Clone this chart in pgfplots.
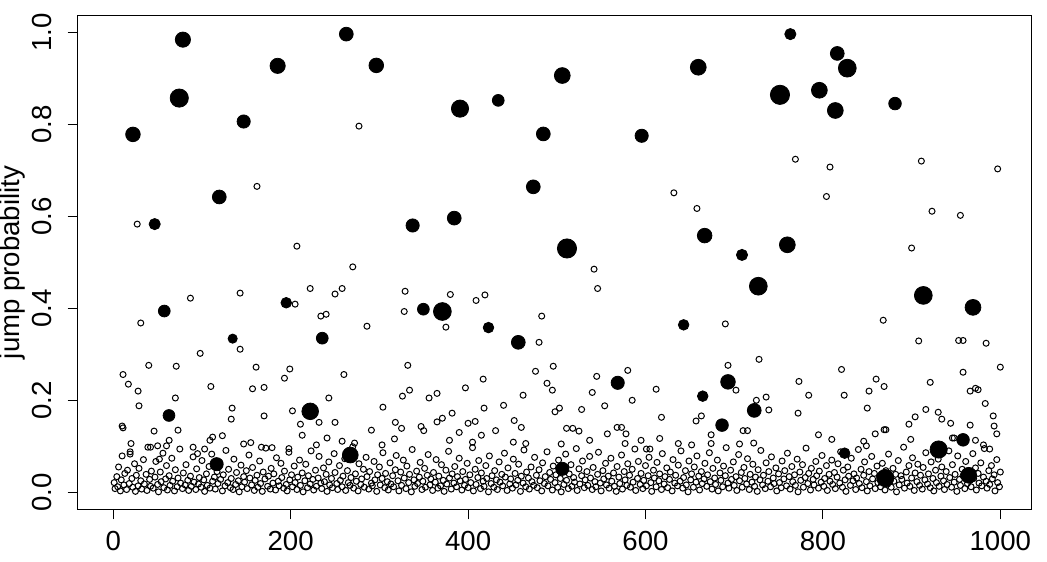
\documentclass[border=0pt]{standalone}
\usepackage{fontspec}
\setmainfont{Liberation Sans}
\usepackage{pgfplots}
\pgfplotsset{compat=1.18}

% open circles: small jump probabilities
\pgfplotstableread{
x y
27 0.583
162 0.665
277 0.796
207 0.535
632 0.651
658 0.617
769 0.724
808 0.707
911 0.720
997 0.703
804 0.643
923 0.611
955 0.602
900 0.531
270 0.490
143 0.433
222 0.443
250 0.431
258 0.443
87 0.422
205 0.409
31 0.368
234 0.383
240 0.387
286 0.361
98 0.302
143 0.311
40 0.276
71 0.274
161 0.272
199 0.268
193 0.248
11 0.256
17 0.235
28 0.220
29 0.188
70 0.205
110 0.230
157 0.225
170 0.228
260 0.256
243 0.205
304 0.185
134 0.183
133 0.159
170 0.166
202 0.177
211 0.148
232 0.152
250 0.152
291 0.135
318 0.152
10 0.144
11 0.140
46 0.133
73 0.135
213 0.124
20 0.106
63 0.113
112 0.120
123 0.123
241 0.118
258 0.111
272 0.107
303 0.103
317 0.116
229 0.103
42 0.098
50 0.101
60 0.101
52 0.072
19 0.083
90 0.098
103 0.094
95 0.084
109 0.113
147 0.105
155 0.108
167 0.098
179 0.097
198 0.095
542 0.485
546 0.443
329 0.437
328 0.393
380 0.430
409 0.417
419 0.429
375 0.359
483 0.383
480 0.326
332 0.276
496 0.274
476 0.263
580 0.265
545 0.252
417 0.246
326 0.209
334 0.222
356 0.205
365 0.215
397 0.227
462 0.211
489 0.237
495 0.222
540 0.217
612 0.224
585 0.200
440 0.189
418 0.183
382 0.172
371 0.161
365 0.153
498 0.175
503 0.183
528 0.180
554 0.188
618 0.163
325 0.139
347 0.143
350 0.134
400 0.150
408 0.154
452 0.156
460 0.141
511 0.139
518 0.139
525 0.133
568 0.141
573 0.141
578 0.127
390 0.130
431 0.134
415 0.124
557 0.127
657 0.155
663 0.166
674 0.125
379 0.113
405 0.109
451 0.109
465 0.106
505 0.105
537 0.113
577 0.106
595 0.113
601 0.094
605 0.094
616 0.117
637 0.106
652 0.103
674 0.106
690 0.366
868 0.374
908 0.329
953 0.330
958 0.330
984 0.324
728 0.289
693 0.276
821 0.267
1000 0.272
773 0.241
860 0.246
921 0.239
958 0.261
702 0.222
869 0.230
852 0.220
784 0.211
824 0.211
736 0.207
725 0.200
966 0.220
972 0.226
975 0.223
739 0.179
772 0.172
850 0.183
916 0.180
930 0.174
983 0.193
992 0.166
904 0.164
934 0.159
944 0.150
897 0.148
993 0.144
966 0.146
996 0.127
710 0.134
715 0.134
869 0.136
871 0.136
795 0.125
859 0.127
899 0.115
946 0.118
948 0.118
972 0.113
810 0.115
722 0.107
706 0.105
981 0.103
846 0.111
849 0.101
988 0.094
}\upper

\pgfplotstableread{
x y
1 0.021
2 0.008
4 0.034
5 0.012
6 0.055
8 0.003
9 0.027
10 0.079
12 0.016
13 0.041
15 0.006
16 0.048
18 0.019
19 0.088
21 0.030
22 0.011
24 0.062
25 0.002
26 0.037
28 0.014
29 0.052
31 0.025
32 0.007
34 0.071
35 0.018
37 0.039
38 0.004
39 0.098
41 0.028
42 0.013
43 0.046
45 0.009
47 0.033
48 0.067
50 0.017
51 0.001
53 0.044
54 0.023
56 0.085
57 0.010
59 0.029
60 0.058
61 0.005
63 0.036
64 0.015
66 0.074
67 0.024
69 0.003
70 0.049
72 0.012
73 0.031
75 0.094
76 0.020
78 0.008
79 0.042
81 0.016
82 0.060
84 0.026
85 0.004
87 0.035
88 0.013
90 0.077
91 0.022
93 0.006
94 0.051
96 0.018
97 0.032
99 0.011
100 0.069
102 0.027
103 0.002
105 0.040
106 0.015
108 0.056
109 0.009
111 0.083
112 0.024
114 0.033
115 0.007
117 0.045
118 0.019
120 0.065
121 0.028
123 0.003
124 0.038
126 0.014
127 0.091
129 0.021
130 0.050
132 0.010
133 0.030
135 0.006
136 0.072
138 0.017
139 0.043
141 0.025
142 0.001
144 0.059
145 0.012
147 0.034
148 0.022
150 0.047
151 0.008
153 0.081
154 0.031
156 0.016
157 0.054
159 0.004
160 0.026
162 0.037
163 0.011
165 0.068
166 0.019
168 0.002
169 0.044
171 0.029
172 0.096
174 0.013
175 0.035
177 0.007
178 0.052
180 0.020
181 0.040
183 0.005
184 0.075
186 0.024
187 0.014
189 0.063
190 0.032
192 0.009
193 0.046
195 0.017
196 0.003
198 0.087
199 0.027
201 0.038
202 0.012
204 0.057
205 0.021
207 0.006
208 0.033
210 0.070
211 0.015
213 0.042
214 0.001
216 0.025
217 0.061
219 0.010
220 0.036
222 0.018
223 0.090
225 0.028
226 0.005
228 0.048
229 0.013
231 0.031
232 0.078
234 0.020
235 0.008
237 0.053
238 0.023
240 0.039
241 0.002
243 0.066
244 0.016
246 0.030
247 0.010
249 0.084
250 0.043
252 0.019
253 0.006
255 0.058
256 0.026
258 0.012
259 0.035
261 0.073
262 0.004
264 0.047
265 0.021
267 0.015
268 0.032
270 0.099
271 0.009
273 0.040
274 0.024
276 0.003
277 0.062
279 0.017
280 0.029
282 0.050
283 0.011
285 0.076
286 0.034
288 0.007
289 0.045
291 0.020
292 0.014
294 0.067
295 0.027
297 0.002
298 0.038
300 0.055
301 0.016
303 0.030
304 0.086
306 0.010
307 0.041
309 0.023
310 0.005
312 0.064
313 0.018
315 0.036
316 0.012
318 0.049
319 0.080
321 0.025
322 0.003
324 0.044
325 0.015
327 0.070
328 0.031
330 0.008
331 0.057
333 0.021
334 0.039
336 0.001
337 0.093
339 0.027
340 0.013
342 0.046
343 0.019
345 0.033
346 0.065
348 0.006
349 0.024
351 0.052
352 0.011
354 0.037
355 0.082
357 0.016
358 0.029
360 0.004
361 0.043
363 0.022
364 0.071
366 0.009
367 0.035
369 0.014
370 0.060
372 0.026
373 0.002
375 0.048
376 0.018
378 0.089
379 0.031
381 0.007
382 0.040
384 0.020
385 0.056
387 0.012
388 0.034
390 0.074
391 0.025
393 0.005
394 0.045
396 0.015
397 0.028
399 0.063
400 0.010
402 0.038
403 0.021
405 0.097
406 0.003
408 0.050
409 0.017
411 0.032
412 0.069
414 0.008
415 0.042
417 0.024
418 0.013
420 0.058
421 0.030
423 0.001
424 0.079
426 0.019
427 0.036
429 0.011
430 0.047
432 0.027
433 0.006
435 0.066
436 0.022
438 0.039
439 0.014
441 0.085
442 0.033
444 0.004
445 0.053
447 0.018
448 0.029
450 0.009
451 0.072
453 0.041
454 0.016
456 0.026
457 0.061
459 0.002
460 0.035
462 0.020
463 0.092
465 0.012
466 0.044
468 0.031
469 0.007
471 0.055
472 0.023
474 0.015
475 0.076
477 0.037
478 0.010
480 0.049
481 0.025
483 0.003
484 0.064
486 0.019
487 0.034
489 0.088
490 0.014
492 0.043
493 0.028
495 0.005
496 0.057
498 0.021
499 0.038
501 0.011
502 0.070
504 0.030
505 0.001
507 0.046
508 0.017
510 0.083
511 0.026
513 0.008
514 0.040
516 0.060
517 0.013
519 0.032
520 0.022
522 0.095
523 0.004
525 0.051
526 0.018
528 0.036
529 0.068
531 0.010
532 0.027
534 0.045
535 0.015
537 0.078
538 0.031
540 0.006
541 0.054
543 0.023
544 0.012
546 0.039
547 0.087
549 0.020
550 0.003
552 0.047
553 0.029
555 0.063
556 0.016
558 0.035
559 0.009
561 0.074
562 0.024
564 0.042
565 0.013
567 0.002
568 0.056
570 0.033
571 0.019
573 0.081
574 0.007
576 0.045
577 0.027
579 0.015
580 0.062
582 0.037
583 0.011
585 0.050
586 0.022
588 0.094
589 0.004
591 0.030
592 0.067
594 0.017
595 0.041
597 0.008
598 0.026
600 0.058
601 0.014
603 0.036
604 0.076
606 0.021
607 0.002
609 0.048
610 0.031
612 0.012
613 0.065
615 0.025
616 0.040
618 0.006
619 0.084
621 0.018
622 0.034
624 0.053
625 0.010
627 0.028
628 0.044
630 0.003
631 0.071
633 0.020
634 0.037
636 0.014
637 0.059
639 0.024
640 0.090
642 0.009
643 0.032
645 0.047
646 0.016
648 0.001
649 0.068
651 0.027
652 0.040
654 0.011
655 0.055
657 0.022
658 0.079
660 0.035
661 0.005
663 0.045
664 0.019
666 0.029
667 0.063
669 0.013
670 0.038
672 0.086
673 0.023
675 0.007
676 0.052
678 0.031
679 0.017
681 0.070
682 0.003
684 0.042
685 0.026
687 0.012
688 0.057
690 0.036
691 0.097
693 0.020
694 0.009
696 0.048
697 0.028
699 0.066
700 0.015
702 0.034
703 0.004
705 0.082
706 0.025
708 0.043
709 0.011
711 0.054
712 0.030
714 0.018
715 0.073
717 0.006
718 0.039
720 0.022
721 0.061
723 0.013
724 0.033
726 0.002
727 0.049
729 0.027
730 0.091
732 0.016
733 0.037
735 0.008
736 0.064
738 0.024
739 0.045
741 0.012
742 0.077
744 0.031
745 0.019
747 0.053
748 0.003
750 0.040
751 0.021
753 0.010
754 0.068
756 0.029
757 0.047
759 0.014
760 0.085
762 0.034
763 0.007
765 0.056
766 0.023
768 0.038
769 0.015
771 0.072
772 0.001
774 0.044
775 0.026
777 0.060
778 0.011
780 0.032
781 0.096
783 0.019
784 0.041
786 0.005
787 0.052
789 0.028
790 0.016
792 0.067
793 0.036
795 0.009
796 0.046
798 0.022
799 0.080
801 0.013
802 0.030
804 0.058
805 0.004
807 0.039
808 0.024
810 0.070
811 0.017
813 0.043
814 0.008
816 0.033
817 0.062
819 0.020
820 0.088
822 0.011
823 0.048
825 0.027
826 0.002
828 0.055
829 0.035
831 0.015
832 0.074
834 0.025
835 0.040
837 0.006
838 0.031
840 0.093
841 0.019
843 0.050
844 0.010
846 0.037
847 0.066
849 0.023
850 0.003
852 0.045
853 0.014
855 0.078
856 0.029
858 0.041
859 0.008
861 0.057
862 0.021
864 0.034
865 0.012
867 0.063
868 0.026
870 0.005
871 0.047
873 0.018
874 0.083
876 0.032
877 0.011
879 0.052
880 0.024
882 0.039
883 0.001
885 0.069
886 0.016
888 0.036
889 0.028
891 0.098
892 0.009
894 0.044
895 0.020
897 0.058
898 0.013
900 0.031
901 0.075
903 0.004
904 0.042
906 0.023
907 0.061
909 0.015
910 0.037
912 0.007
913 0.054
915 0.027
916 0.086
918 0.018
919 0.040
921 0.010
922 0.066
924 0.030
925 0.003
927 0.048
928 0.021
930 0.072
931 0.013
933 0.035
934 0.055
936 0.025
937 0.006
939 0.045
940 0.017
942 0.090
943 0.032
945 0.011
946 0.060
948 0.022
949 0.039
951 0.002
952 0.079
954 0.028
955 0.015
957 0.050
958 0.036
960 0.008
961 0.067
963 0.019
964 0.043
966 0.026
967 0.012
969 0.084
970 0.030
972 0.053
973 0.005
975 0.041
976 0.020
978 0.064
979 0.014
981 0.033
982 0.095
984 0.024
985 0.009
987 0.047
988 0.017
990 0.058
991 0.029
993 0.038
994 0.003
996 0.071
997 0.021
999 0.012
1000 0.044
}\band

% filled circles, r = mark radius in pt
\pgfplotstableread{
x y r
78.5 0.984 3.8
262.7 0.996 3.45
185.3 0.927 3.8
296.5 0.928 3.65
74.4 0.857 4.55
147 0.806 3.3
22.2 0.778 3.65
119.5 0.642 3.45
46.7 0.583 2.8
506.2 0.906 3.95
659.5 0.924 3.95
390.9 0.834 4.3
434 0.852 2.95
484.8 0.779 3.45
595.7 0.775 3.3
473.5 0.664 3.45
384.4 0.596 3.45
337.5 0.580 3.3
511.5 0.530 4.8
666.7 0.558 3.65
763.3 0.996 2.8
816.2 0.954 3.45
827.5 0.922 4.45
751.6 0.864 4.8
796 0.874 3.95
814 0.830 3.95
881.3 0.845 3.15
759.9 0.538 3.95
708.8 0.516 2.8
57.5 0.394 2.95
195 0.412 2.65
134.6 0.334 2.3
235.6 0.335 2.95
62.8 0.167 2.95
222 0.176 4.15
267.2 0.081 3.95
116.5 0.061 3.3
349.6 0.398 2.95
371 0.393 4.45
423 0.358 2.65
456.6 0.326 3.45
643 0.364 2.65
568.7 0.238 3.3
664.5 0.209 2.65
506.2 0.051 3.3
686.3 0.146 3.15
727.2 0.448 4.45
913.2 0.428 4.45
969.2 0.402 3.95
693 0.240 3.65
722.6 0.178 3.45
824.5 0.085 2.65
870.3 0.031 4.3
930.5 0.093 4.3
958 0.114 3.15
964.4 0.037 3.95
}\big

\begin{document}
\begin{tikzpicture}
\begin{axis}[
    name=ax,
    scale only axis,
    width=477pt,
    height=246.9pt,
    xmin=-40.1, xmax=1035.4,
    ymin=-0.037, ymax=1.0365,
    axis line style={black, line width=0.5pt},
    tick style={black, line width=0.5pt},
    tick align=outside,
    major tick length=5pt,
    xtick pos=bottom,
    ytick pos=left,
    xtick={0,200,400,600,800,1000},
    xticklabels={0,200,400,600,800,1000},
    ytick={0,0.2,0.4,0.6,0.8,1},
    yticklabels={0.0,0.2,0.4,0.6,0.8,1.0},
    font=\fontsize{13.8}{16}\selectfont,
    xticklabel style={inner sep=0pt, anchor=north},
    xticklabel shift=6pt,
    yticklabel style={inner sep=0pt, rotate=90, anchor=south},
    yticklabel shift=8pt,
    ylabel={jump probability},
    ylabel style={at={(axis description cs:-0.068,0.5)}, anchor=center, inner sep=0pt},
    clip=false,
]
\addplot[only marks, mark=o, mark size=1.5pt, black, mark options={line width=0.5pt}] table[x=x, y=y] {\band};
\addplot[only marks, mark=o, mark size=1.5pt, black, mark options={line width=0.5pt}] table[x=x, y=y] {\upper};
\addplot[scatter, only marks, mark=*, scatter src=explicit,
    scatter/use mapped color={draw=black, fill=black},
    visualization depends on={\thisrow{r} \as \rr},
    scatter/@pre marker code/.append style={/tikz/mark size=\rr pt}]
    table[x=x, y=y, meta=r] {\big};
\end{axis}
\pgfresetboundingbox
\path[use as bounding box] ([xshift=-38.85pt,yshift=-25.85pt]ax.south west) rectangle ([xshift=7.65pt,yshift=7.75pt]ax.north east);
\end{tikzpicture}
\end{document}
